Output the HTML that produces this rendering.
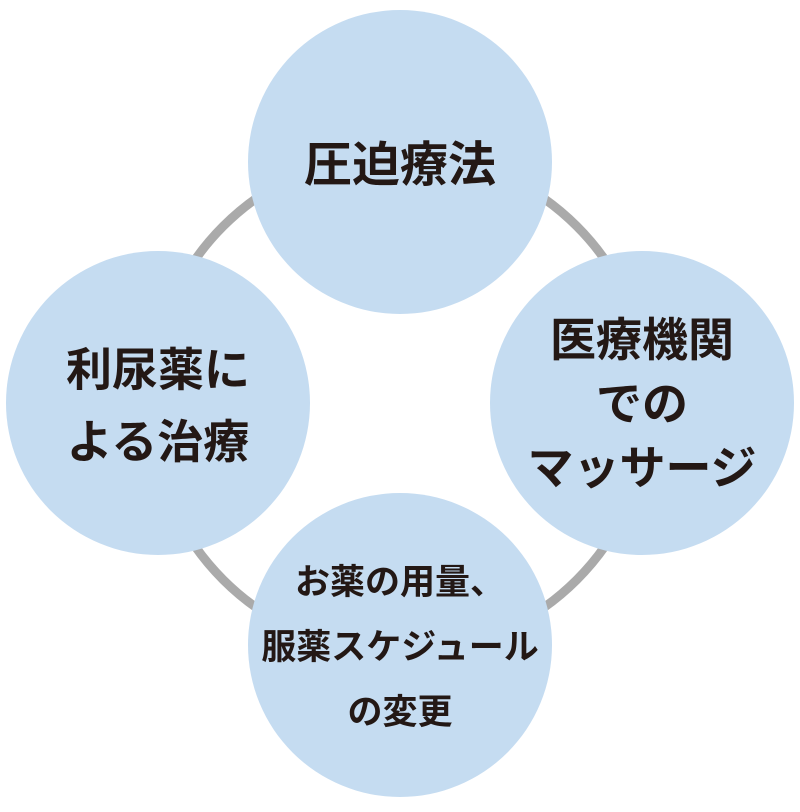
<!DOCTYPE html>
<html><head><meta charset="utf-8"><style>
html,body{margin:0;padding:0;background:#fff;}
body{width:800px;height:807px;position:relative;overflow:hidden;}
</style></head><body>
<svg width="800" height="807" viewBox="0 0 800 807" xmlns="http://www.w3.org/2000/svg">
<circle cx="400" cy="403" r="250" fill="none" stroke="#aaaaaa" stroke-width="9"/>
<g fill="#c5dcf1">
<circle cx="400" cy="162" r="152"/>
<circle cx="642" cy="403" r="152"/>
<circle cx="158" cy="403" r="152"/>
<circle cx="400" cy="645" r="152"/>
</g>
<g font-family="'Liberation Sans','Noto Sans CJK JP',sans-serif" font-weight="bold" fill="#231815" text-anchor="middle">
<text x="400" y="181" font-size="48">圧迫療法</text>
<text x="158" y="386" font-size="46">利尿薬に</text>
<text x="158" y="458" font-size="46">よる治療</text>
<text x="642" y="356" font-size="46">医療機関</text>
<text x="642" y="420" font-size="46">での</text>
<text x="642" y="484" font-size="46">マッサージ</text>
<text x="400" y="594" font-size="35">お薬の用量、</text>
<text x="400" y="659" font-size="35">服薬スケジュール</text>
<text x="400" y="724" font-size="35">の変更</text>
</g>
</svg>
</body></html>
